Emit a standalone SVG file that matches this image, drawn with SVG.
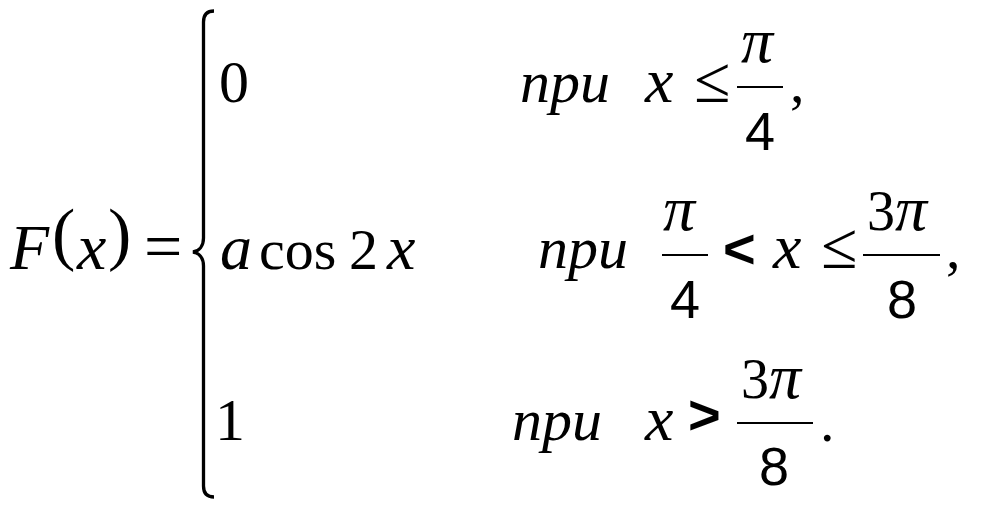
<svg xmlns="http://www.w3.org/2000/svg" width="982" height="509" viewBox="0 0 982 509">
<style>
text{fill:#000}
.it{font-family:"Liberation Serif",serif;font-style:italic}
.rm{font-family:"Liberation Serif",serif}
.sn{font-family:"Liberation Sans",sans-serif}
.op{font-family:"Liberation Sans",sans-serif;font-weight:bold}
.bar{stroke:#000;stroke-width:2;fill:none}
</style>
<rect width="982" height="509" fill="#fff"/>
<g id="lhs">
<text class="it" x="10" y="269" font-size="64">F</text>
<text class="rm" x="52" y="257" font-size="70">(</text>
<text class="it" x="77" y="269" font-size="66">x</text>
<text class="rm" x="108" y="257" font-size="70">)</text>
<text class="rm" x="144" y="269" font-size="68">=</text>
</g>
<g id="brace">
<path d="M214 11 C207 11 203.5 15 203.5 22 L203.5 238 C203.5 246 199 251 193 252 C199 253 203.5 258 203.5 266 L203.5 486 C203.5 493 207 497 214 497" stroke="#000" stroke-width="3.3" fill="none"/>
</g>
<g id="row1">
<text class="rm" x="219" y="102" font-size="60">0</text>
<text class="it" x="520" y="102" font-size="60">npu</text>
<text class="it" x="645" y="102" font-size="64">x</text>
<text class="rm" x="694" y="102" font-size="66">≤</text>
<text class="it" x="741" y="62" font-size="64">π</text>
<line class="bar" x1="737" y1="87" x2="783" y2="87"/>
<text class="sn" x="745" y="150" font-size="54">4</text>
<text class="rm" x="790" y="102" font-size="58">,</text>
</g>
<g id="row2">
<text class="it" x="220" y="269" font-size="64">a</text>
<text class="rm" x="259" y="269" font-size="58">cos</text>
<text class="rm" x="349" y="269" font-size="58">2</text>
<text class="it" x="387" y="269" font-size="64">x</text>
<text class="it" x="538" y="268" font-size="60">npu</text>
<text class="it" x="663" y="230" font-size="64">π</text>
<line class="bar" x1="662" y1="255" x2="708" y2="255"/>
<text class="sn" x="670" y="318" font-size="54">4</text>
<text class="op" x="723" y="268" font-size="56">&lt;</text>
<text class="it" x="773" y="268" font-size="64">x</text>
<text class="rm" x="821" y="268" font-size="66">≤</text>
<text class="rm" x="867" y="230" font-size="56">3<tspan class="it" font-size="64">π</tspan></text>
<line class="bar" x1="863" y1="255" x2="940" y2="255"/>
<text class="sn" x="887" y="318" font-size="54">8</text>
<text class="rm" x="946" y="268" font-size="58">,</text>
</g>
<g id="row3">
<text class="rm" x="215" y="440" font-size="60">1</text>
<text class="it" x="512" y="440" font-size="60">npu</text>
<text class="it" x="645" y="440" font-size="64">x</text>
<text class="op" x="688" y="434" font-size="56">&gt;</text>
<text class="rm" x="741" y="398" font-size="56">3<tspan class="it" font-size="64">π</tspan></text>
<line class="bar" x1="737" y1="423" x2="813" y2="423"/>
<text class="sn" x="759" y="485" font-size="54">8</text>
<text class="rm" x="820" y="441" font-size="58">.</text>
</g>
</svg>
